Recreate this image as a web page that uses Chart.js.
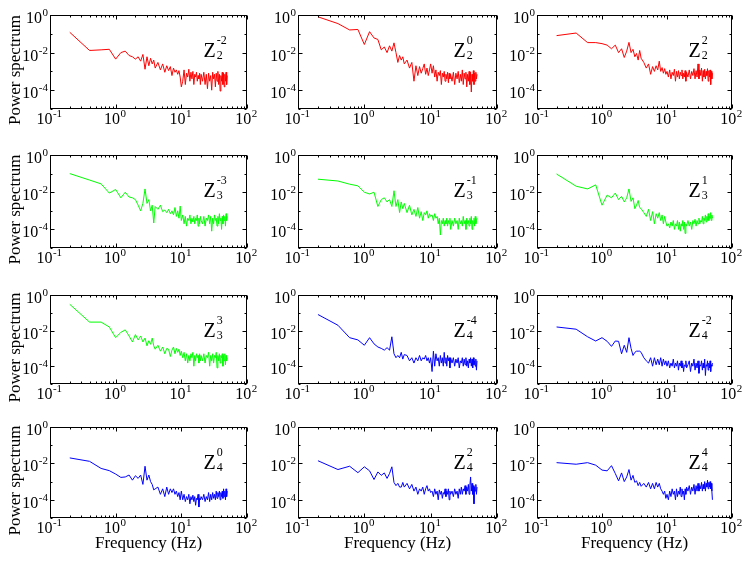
<!DOCTYPE html>
<html>
<head>
<meta charset="utf-8">
<script src="https://cdn.jsdelivr.net/npm/chart.js@4/dist/chart.umd.min.js"></script>
<style>
  body { margin: 0; background: #fff; }
  #wrap { position: relative; width: 751px; height: 563px; overflow: hidden; }
  #wrap canvas { position: absolute; }
</style>
</head>
<body>
<div id="wrap"></div>
<script>
// frequency grid (Hz)
const freq = [0.2,0.4,0.6,0.8,1.0,1.2,1.4,1.6,1.8,2.0,2.2,2.4,2.6,2.8,3.0,3.2,3.4,3.6,3.8,4.0,
  4.4,4.8,5.2,5.6,6.0,6.4,6.8,7.2,7.6,8.0,8.4,8.8,9.2,9.6,10,
  10.5,11,11.5,12,12.5,13,13.5,14,14.5,15,15.5,16,16.5,17,17.5,18,18.5,19,19.5,20,
  21,22,23,24,25,26,27,28,29,30,31,32,33,34,35,36,37,38,39,40,41,42,43,44,45,46,47,48,49,50];

// power spectra
const z2m2 = [0.12,0.013,0.014,0.015,0.0045,0.01,0.012,0.007,0.006,0.0045,0.006,0.0035,0.008,0.0013,0.006,0.002,0.005,0.0025,0.004,0.0015,
  0.003,0.0012,0.0025,0.0009,0.002,0.0011,0.0018,0.0006,0.0015,0.0009,0.0012,0.0007,0.0011,0.0005,0.00015,
  0.0003,0.0012,0.0002,0.0008,0.0005,0.0013,0.0003,0.0009,0.0004,0.001,0.0002,0.0007,0.0005,0.0009,0.0003,0.0006,0.0004,0.0008,0.0002,0.0007,
  0.0003,0.0009,0.0002,0.0007,0.00012,0.0008,0.0003,0.0006,0.0001,0.0009,0.0004,0.0007,0.00015,0.0008,0.0003,0.001,0.0002,0.0007,0.00009,0.0006,0.0003,0.0009,0.0002,0.0008,0.00015,0.0007,0.0003,0.0009,0.0002,0.0006];
const z2p0 = [0.8,0.35,0.16,0.17,0.027,0.13,0.06,0.05,0.014,0.02,0.01,0.023,0.012,0.033,0.01,0.003,0.007,0.004,0.006,0.0025,
  0.004,0.0015,0.003,0.0003,0.002,0.0006,0.0018,0.0008,0.0014,0.0025,0.0007,0.0015,0.0006,0.0012,0.0025,
  0.0008,0.002,0.0005,0.0012,0.0003,0.0009,0.0006,0.0011,0.0002,0.0008,0.0005,0.001,0.0003,0.0007,0.0004,0.0009,0.00025,0.0008,0.0004,0.0007,
  0.0003,0.0009,0.0002,0.0008,0.0004,0.001,0.00025,0.0007,0.0003,0.0012,0.0002,0.0008,0.0004,0.0009,0.00015,0.0007,0.0003,0.001,0.0002,0.0009,0.00008,0.0007,0.0003,0.0011,0.0002,0.0008,0.0003,0.0009,0.0004,0.0007];
const z2p2 = [0.08,0.11,0.034,0.034,0.03,0.025,0.016,0.025,0.01,0.016,0.0055,0.012,0.035,0.01,0.015,0.006,0.009,0.004,0.013,0.005,
  0.003,0.0015,0.0025,0.0007,0.0018,0.001,0.002,0.0012,0.0035,0.001,0.0016,0.0008,0.0014,0.0007,0.001,
  0.0005,0.0012,0.0004,0.0009,0.0006,0.0013,0.0003,0.001,0.0005,0.0011,0.0004,0.0009,0.0006,0.0012,0.0004,0.0008,0.0005,0.0011,0.0003,0.0009,
  0.0005,0.0012,0.0004,0.001,0.0006,0.0014,0.0004,0.0011,0.0005,0.0025,0.0004,0.0012,0.0006,0.0015,0.0003,0.0011,0.0005,0.0013,0.0004,0.001,0.0006,0.0014,0.0003,0.0011,0.0005,0.0012,0.0002,0.001,0.0004,0.0008];
const z3m3 = [0.1,0.045,0.028,0.009,0.014,0.005,0.01,0.0055,0.005,0.004,0.002,0.001,0.0025,0.015,0.0025,0.004,0.001,0.002,0.00022,0.0017,
  0.0012,0.002,0.0009,0.0011,0.0008,0.0012,0.0007,0.001,0.0006,0.0015,0.0005,0.001,0.0004,0.0018,0.0003,
  0.0006,0.0002,0.0005,0.00015,0.0004,0.0003,0.0006,0.0002,0.0004,0.00025,0.0005,0.0002,0.0004,0.0003,0.0006,0.00015,0.0004,0.0002,0.0005,0.0003,
  0.0002,0.0005,0.00015,0.0004,0.0003,0.0006,0.0002,0.0005,0.00008,0.0004,0.0002,0.0006,0.0003,0.0004,0.00015,0.0005,0.0002,0.0007,0.0003,0.0004,0.0001,0.0005,0.0002,0.0006,0.0003,0.0005,0.00015,0.0007,0.0003,0.0005];
const z3m1 = [0.05,0.04,0.027,0.022,0.01,0.008,0.01,0.0017,0.004,0.005,0.003,0.004,0.0017,0.012,0.0017,0.004,0.0008,0.003,0.0013,0.0025,
  0.0008,0.002,0.0006,0.0012,0.0005,0.0015,0.0004,0.0009,0.0003,0.0008,0.0006,0.001,0.0004,0.0007,0.0005,
  0.0006,0.0003,0.0007,0.0004,0.0005,0.0002,0.0004,0.00005,0.0003,0.0002,0.0004,0.00015,0.0003,0.0002,0.0004,0.00015,0.0003,0.0002,0.0004,0.0001,
  0.0003,0.00015,0.0004,0.0002,0.0003,0.0001,0.0004,0.0002,0.0003,0.00015,0.0005,0.0002,0.0003,0.0001,0.0004,0.0002,0.0003,0.00015,0.0004,0.0002,0.0005,0.0001,0.0003,0.0002,0.0004,0.00015,0.0005,0.0002,0.0003,0.0004];
const z3p1 = [0.095,0.021,0.015,0.025,0.002,0.007,0.005,0.009,0.004,0.006,0.003,0.005,0.015,0.0032,0.005,0.0013,0.002,0.0036,0.0015,0.0013,
  0.0008,0.0005,0.0012,0.0003,0.0009,0.0002,0.0007,0.0004,0.0008,0.0003,0.0006,0.0002,0.0005,0.00025,0.00015,
  0.0002,0.00012,0.00025,0.00015,0.0003,0.0001,0.0002,0.00015,0.0003,0.0001,0.00025,0.00008,0.0002,0.00015,0.0003,0.0001,0.00025,0.00006,0.0002,0.00015,
  0.0003,0.00015,0.00025,0.0001,0.0003,0.0002,0.00035,0.00015,0.0003,0.0002,0.0004,0.0002,0.0003,0.00025,0.0005,0.0002,0.0004,0.0003,0.0006,0.00025,0.0005,0.0003,0.0007,0.0003,0.0005,0.0004,0.0008,0.0003,0.0006,0.0004];
const z3p3 = [0.3,0.03,0.03,0.016,0.004,0.008,0.011,0.005,0.0023,0.006,0.003,0.005,0.0023,0.0038,0.0014,0.0027,0.0017,0.0038,0.0014,0.0009,
  0.0015,0.0007,0.0012,0.0005,0.001,0.0009,0.00035,0.0008,0.0012,0.0005,0.001,0.0006,0.0009,0.0004,0.0007,
  0.0003,0.0006,0.0002,0.0005,0.00015,0.0004,0.0002,0.0005,0.0003,0.0006,0.0001,0.0004,0.0002,0.0005,0.0003,0.0004,0.00015,0.0005,0.0002,0.0004,
  0.0002,0.0005,0.00015,0.0004,0.0003,0.0006,0.0001,0.0004,0.0002,0.0005,0.00015,0.0004,0.0003,0.0006,0.00008,0.0004,0.0002,0.0005,0.00015,0.0004,0.0003,0.0005,0.0001,0.0004,0.0002,0.0005,0.00012,0.0004,0.0002,0.0003];
const z4m4 = [0.08,0.02,0.004,0.003,0.0015,0.004,0.0018,0.0012,0.001,0.0008,0.0011,0.0008,0.0045,0.0005,0.0003,0.0004,0.0003,0.0006,0.00025,0.00045,
  0.0004,0.0002,0.0003,0.00015,0.0003,0.0002,0.0004,0.0002,0.0003,0.00025,0.0004,0.0002,0.0003,0.00015,0.0003,
  0.00005,0.0007,0.0001,0.0005,0.0002,0.0003,0.0001,0.0004,0.00015,0.0003,0.0001,0.0006,0.00015,0.0003,0.0001,0.0004,0.0002,0.0003,0.00008,0.0003,
  0.00015,0.0003,0.0001,0.00025,0.00015,0.0003,0.00008,0.0002,0.00015,0.0003,0.0001,0.00025,0.00012,0.0003,0.0001,0.0002,0.00008,0.00025,0.00015,0.0003,0.0001,0.00025,0.00008,0.0003,0.00012,0.0002,0.0001,0.00025,0.00006,0.0002];
const z4m2 = [0.016,0.012,0.0045,0.0026,0.004,0.0025,0.0013,0.0026,0.0025,0.0005,0.0015,0.0006,0.004,0.001,0.0004,0.0006,0.0007,0.0007,0.0007,0.0006,
  0.0003,0.0002,0.00015,0.0003,0.0001,0.0003,0.00012,0.00025,0.00012,0.0003,0.0001,0.00025,0.00012,0.0002,0.0001,
  0.0002,0.00008,0.00015,0.0001,0.00025,0.00008,0.00015,0.0001,0.0002,0.00006,0.00015,0.0001,0.0002,0.00008,0.00015,0.00005,0.00012,0.0001,0.0002,0.00008,
  0.00012,0.0002,0.00005,0.00015,0.0001,0.00025,0.00006,0.00015,0.00008,0.0002,0.00004,0.00012,0.0001,0.0002,0.00006,0.00015,0.00008,0.00025,0.00003,0.00012,0.0001,0.0002,0.00006,0.00015,0.00008,0.0002,0.00005,0.00012,0.0001,0.00015];
const z4p0 = [0.02,0.013,0.0053,0.004,0.0026,0.0017,0.0018,0.0023,0.0012,0.0021,0.0015,0.0023,0.0007,0.007,0.0012,0.0023,0.001,0.0007,0.00035,0.0004,
  0.0005,0.0002,0.0004,0.00015,0.0005,0.0002,0.0004,0.00025,0.0004,0.0002,0.0003,0.00015,0.00025,0.0001,0.0003,
  0.0001,0.0002,0.00008,0.00015,0.0001,0.0002,0.00006,0.00015,0.0001,0.00018,0.00008,0.00015,0.00005,0.00012,0.0001,0.0002,0.00004,0.00012,0.0001,0.00015,
  0.0001,0.0002,0.00008,0.00015,0.0001,0.00025,0.00008,0.0002,0.0001,0.00025,0.00012,0.0002,0.0001,0.0003,0.00012,0.00025,0.00015,0.0003,0.0001,0.00025,0.00015,0.0003,0.00012,0.0004,0.00015,0.0003,0.0001,0.0004,0.00015,0.0003];
const z4p2 = [0.014,0.0046,0.007,0.0031,0.0065,0.0039,0.0013,0.0034,0.0022,0.003,0.0015,0.0028,0.0065,0.0009,0.0006,0.0008,0.0005,0.0005,0.0009,0.0005,
  0.0008,0.0004,0.0007,0.0003,0.0005,0.0002,0.0004,0.0003,0.0005,0.0002,0.0004,0.0006,0.0003,0.0004,0.00025,
  0.0003,0.00015,0.0004,0.0002,0.0003,0.0001,0.00035,0.0002,0.0003,0.00012,0.00025,0.0002,0.0004,0.00015,0.0003,0.0002,0.0004,0.0001,0.0003,0.0002,
  0.0003,0.00015,0.0004,0.0002,0.0003,0.00012,0.0004,0.0002,0.0005,0.0002,0.0004,0.0003,0.0006,0.0002,0.0005,0.0003,0.0007,0.0002,0.0006,0.0018,0.0003,0.0008,0.0002,0.0006,0.00006,0.0005,0.0003,0.0007,0.0002,0.0005];
const z4p4 = [0.011,0.009,0.011,0.008,0.0043,0.0039,0.0075,0.0028,0.0011,0.003,0.001,0.0018,0.0046,0.0012,0.0022,0.0009,0.0011,0.0006,0.0009,0.00055,
  0.0008,0.0005,0.0009,0.0004,0.0008,0.0004,0.0009,0.0005,0.0008,0.0004,0.0003,0.0002,0.0003,0.00012,0.0002,
  0.0001,0.0003,0.00015,0.0004,0.0002,0.0003,0.0001,0.0004,0.00015,0.0003,0.0002,0.0005,0.00015,0.0004,0.0002,0.0003,0.0001,0.0004,0.0002,0.0005,
  0.0003,0.0006,0.0002,0.0005,0.0003,0.0007,0.0002,0.0006,0.0003,0.0008,0.0003,0.0006,0.0004,0.0009,0.0003,0.0007,0.0004,0.001,0.0003,0.0008,0.0005,0.0012,0.0004,0.0009,0.0005,0.001,0.0004,0.0008,0.0003,0.0001];

// panel order: row by row
const series = [z2m2, z2p0, z2p2, z3m3, z3m1, z3p1, z3p3, z4m4, z4m2, z4p0, z4p2, z4p4];
const zOrder = ['2','2','2','3','3','3','3','4','4','4','4','4'];
const zRep = ['-2','0','2','-3','-1','1','3','-4','-2','0','2','4'];
const colors = ['#ff0000','#ff0000','#ff0000','#00ff00','#00ff00','#00ff00','#00ff00','#0000ff','#0000ff','#0000ff','#0000ff','#0000ff'];

const xTicks = [0.1, 1, 10, 100];
const xExp = ['-1', '0', '1', '2'];
const yTicks = [1e-4, 1e-2, 1];
const yExp = ['-4', '-2', '0'];

// layout of the plot boxes
const colLeft = [50, 298, 537];
const colWidth = [197, 199, 195];
const rowTop = [15, 155, 295, 427];
const rowHeight = [94, 93, 89, 91];
const PAD = { left: 50, top: 15, right: 40, bottom: 45 };
const FONT = '"Liberation Serif", "Times New Roman", serif';

function drawPow(ctx, x, base, exp, align) {
  ctx.font = '16px ' + FONT;
  const w10 = ctx.measureText('10').width;
  ctx.font = '11px ' + FONT;
  const wExp = ctx.measureText(exp).width;
  let sx = align === 'center' ? x - (w10 + wExp) / 2 - 1 : x - w10 - wExp;
  ctx.textAlign = 'left';
  ctx.textBaseline = 'alphabetic';
  ctx.font = '16px ' + FONT;
  ctx.fillText('10', sx, base);
  ctx.font = '11px ' + FONT;
  ctx.fillText(exp, sx + w10 + 0.5, base - 7);
}

const framePlugin = {
  id: 'frame',
  afterDraw(chart, args, opts) {
    const { ctx, chartArea: a } = chart;
    const xs = chart.scales.x, ys = chart.scales.y;
    const l = Math.round(a.left) + 0.5, r = Math.round(a.right) - 0.5;
    const t = Math.round(a.top) + 0.5, b = Math.round(a.bottom) - 0.5;
    ctx.save();
    ctx.strokeStyle = '#000';
    ctx.lineWidth = 1;
    ctx.strokeRect(l, t, r - l, b - t);

    ctx.beginPath();
    [0.1, 1, 10].forEach(d => {
      for (let k = 2; k <= 9; k++) {
        const px = Math.round(xs.getPixelForValue(d * k)) + 0.5;
        ctx.moveTo(px, b); ctx.lineTo(px, b - 2);
        ctx.moveTo(px, t); ctx.lineTo(px, t + 2);
      }
    });
    xTicks.forEach(v => {
      const px = Math.round(xs.getPixelForValue(v)) + 0.5;
      ctx.moveTo(px, b); ctx.lineTo(px, b - 4);
      ctx.moveTo(px, t); ctx.lineTo(px, t + 4);
    });
    [1e-5, 1e-4, 1e-3, 1e-2, 1e-1].forEach(v => {
      const py = Math.round(ys.getPixelForValue(v)) + 0.5;
      const len = yTicks.includes(v) ? 4 : 2;
      ctx.moveTo(l, py); ctx.lineTo(l + len, py);
      ctx.moveTo(r, py); ctx.lineTo(r - len, py);
    });
    ctx.stroke();

    ctx.fillStyle = '#000';
    xTicks.forEach((v, i) => drawPow(ctx, xs.getPixelForValue(v), b + 15, xExp[i], 'center'));
    yTicks.forEach((v, i) => drawPow(ctx, l - 3, ys.getPixelForValue(v) + 8, yExp[i], 'right'));

    // Zernike label
    ctx.textAlign = 'left';
    ctx.textBaseline = 'alphabetic';
    ctx.font = '20px ' + FONT;
    const zx = r - 43;
    ctx.fillText('Z', zx, t + 41);
    const wz = ctx.measureText('Z').width;
    ctx.font = '12px ' + FONT;
    ctx.fillText(opts.rep, zx + wz + 1, t + 28);
    ctx.fillText(opts.order, zx + wz + 1, t + 43);

    ctx.font = '17px ' + FONT;
    if (opts.yTitle) {
      ctx.save();
      ctx.translate(20, (t + b) / 2 + 8);
      ctx.rotate(-Math.PI / 2);
      ctx.textAlign = 'center';
      ctx.fillText('Power spectrum', 0, 0);
      ctx.restore();
    }
    if (opts.xTitle) {
      ctx.textAlign = 'center';
      ctx.fillText('Frequency (Hz)', (l + r) / 2, b + 30);
    }
    ctx.restore();
  }
};

const wrap = document.getElementById('wrap');
series.forEach((vals, i) => {
  const row = Math.floor(i / 3), col = i % 3;
  const canvas = document.createElement('canvas');
  canvas.width = colWidth[col] + PAD.left + PAD.right;
  canvas.height = rowHeight[row] + PAD.top + PAD.bottom;
  canvas.style.left = (colLeft[col] - PAD.left) + 'px';
  canvas.style.top = (rowTop[row] - PAD.top) + 'px';
  wrap.appendChild(canvas);

  new Chart(canvas, {
    type: 'line',
    data: {
      datasets: [{
        data: freq.map((f, k) => ({ x: f, y: vals[k] })),
        borderColor: colors[i],
        borderWidth: 1,
        pointRadius: 0,
        tension: 0,
        fill: false
      }]
    },
    options: {
      responsive: false,
      animation: false,
      events: [],
      layout: { padding: PAD },
      scales: {
        x: { type: 'logarithmic', min: 0.1, max: 100, display: false },
        y: { type: 'logarithmic', min: 1e-5, max: 1, display: false }
      },
      plugins: {
        legend: { display: false },
        tooltip: { enabled: false },
        frame: { order: zOrder[i], rep: zRep[i], yTitle: col === 0, xTitle: row === 3 }
      }
    },
    plugins: [framePlugin]
  });
});
</script>
</body>
</html>
